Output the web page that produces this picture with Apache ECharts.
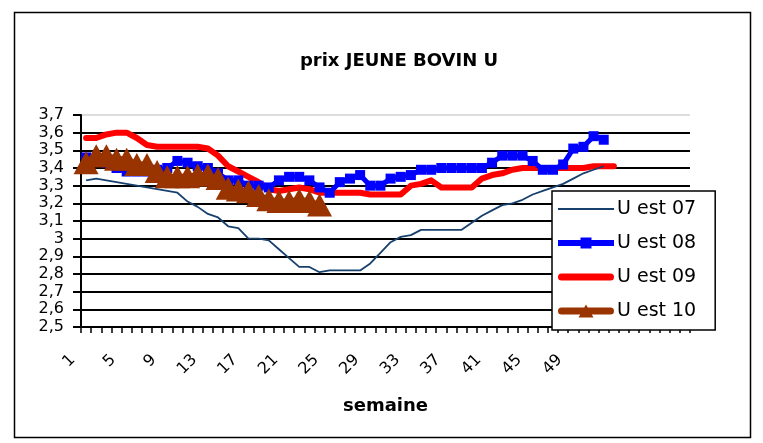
<!DOCTYPE html>
<html>
<head>
<meta charset="utf-8">
<script src="https://cdn.jsdelivr.net/npm/echarts@6/dist/echarts.min.js"></script>
<style>
html,body{margin:0;padding:0;background:#fff;}
#chart{width:763px;height:443px;}
</style>
</head>
<body>
<div id="chart"></div>
<script>
// semaine (week) labels; extra category slots after week 52 are unlabeled
const weeks = ['1','2','3','4','5','6','7','8','9','10','11','12','13','14','15','16','17','18','19','20',
  '21','22','23','24','25','26','27','28','29','30','31','32','33','34','35','36','37','38','39','40',
  '41','42','43','44','45','46','47','48','49','50','51','52'];
const blankSlots = 8;

const seriesNames = ['U est 07', 'U est 08', 'U est 09', 'U est 10'];

const u07 = [3.33,3.34,3.33,3.32,3.31,3.30,3.29,3.28,3.27,3.26,3.21,3.18,3.14,3.12,3.07,3.06,3.00,3.00,2.99,2.94,
  2.89,2.84,2.84,2.81,2.82,2.82,2.82,2.82,2.86,2.92,2.98,3.01,3.02,3.05,3.05,3.05,3.05,3.05,3.09,3.13,
  3.16,3.19,3.20,3.22,3.25,3.27,3.29,3.31,3.34,3.37,3.39,3.41];

const u08 = [3.46,3.45,3.43,3.40,3.38,3.38,3.38,3.39,3.40,3.44,3.43,3.41,3.40,3.37,3.33,3.33,3.30,3.30,3.29,3.33,
  3.35,3.35,3.33,3.29,3.26,3.32,3.34,3.36,3.30,3.30,3.34,3.35,3.36,3.39,3.39,3.40,3.40,3.40,3.40,3.40,
  3.43,3.47,3.47,3.47,3.44,3.39,3.39,3.42,3.51,3.52,3.58,3.56];

const u09 = [3.57,3.57,3.59,3.60,3.60,3.57,3.53,3.52,3.52,3.52,3.52,3.52,3.51,3.47,3.41,3.38,3.35,3.32,3.28,3.27,
  3.28,3.29,3.28,3.26,3.26,3.26,3.26,3.26,3.25,3.25,3.25,3.25,3.30,3.31,3.33,3.29,3.29,3.29,3.29,3.34,
  3.36,3.37,3.39,3.40,3.40,3.40,3.40,3.40,3.40,3.40,3.41,3.41,3.41];

const u10 = [3.43,3.47,3.47,3.45,3.45,3.42,3.42,3.38,3.35,3.35,3.35,3.36,3.36,3.34,3.285,3.275,3.265,3.245,3.22,3.21,
  3.21,3.22,3.21,3.19];

const categories = weeks.concat(new Array(blankSlots).fill(''));

const FONT = 'DejaVu Sans';
const chart = echarts.init(document.getElementById('chart'), null, {renderer: 'canvas'});

// legend glyphs: line with (optional) marker, like the spreadsheet legend
const legendIcons = {
  'U est 07': 'path://M0,0 L56,0 L56,2 L0,2 Z',
  'U est 08': 'path://M0,2.5 L56,2.5 L56,8.5 L0,8.5 Z M22.5,0 L33.5,0 L33.5,11 L22.5,11 Z',
  'U est 09': 'path://M3.5,0 L52.5,0 A3.5,3.5 0 0 1 52.5,7 L3.5,7 A3.5,3.5 0 0 1 3.5,0 Z',
  'U est 10': 'path://M3.5,3 L52.5,3 A3.5,3.5 0 0 1 52.5,10 L3.5,10 A3.5,3.5 0 0 1 3.5,3 Z M28,0 L35.5,13 L20.5,13 Z'
};

chart.setOption({
  animation: false,
  backgroundColor: '#ffffff',
  title: {
    text: 'prix JEUNE BOVIN U',
    left: 394, top: 47,
    textAlign: 'center',
    textStyle: {fontFamily: FONT, fontSize: 18, fontWeight: 'bold', color: '#000'}
  },
  graphic: [{
    type: 'rect', silent: true, z: 0,
    shape: {x: 14.5, y: 12.5, width: 736, height: 425},
    style: {fill: null, stroke: '#000', lineWidth: 1.5}
  }],
  grid: {left: 81, right: 73, top: 115, bottom: 116, containLabel: false},
  legend: {
    orient: 'vertical',
    left: 552, top: 191,
    padding: [8, 19, 9, 6],
    itemWidth: 56, itemHeight: 14, itemGap: 14,
    backgroundColor: '#ffffff',
    borderColor: '#000', borderWidth: 1.5, borderRadius: 0,
    data: seriesNames.map(function (n) { return {name: n, icon: legendIcons[n]}; }),
    textStyle: {fontFamily: FONT, fontSize: 19, color: '#000', lineHeight: 20, padding: [0,0,0,-2]},
    z: 20
  },
  xAxis: {
    type: 'category',
    data: categories,
    boundaryGap: true,
    name: 'semaine',
    nameLocation: 'middle',
    nameGap: 70,
    nameTextStyle: {fontFamily: FONT, fontSize: 18, fontWeight: 'bold', color: '#000'},
    axisLine: {lineStyle: {color: '#000', width: 2}},
    axisTick: {show: true, interval: 0, length: 6, lineStyle: {color: '#000', width: 1.5}},
    axisLabel: {
      interval: 3, rotate: 45, margin: 17,
      padding: [0, 19, 0, 0],
      fontFamily: FONT, fontSize: 16, color: '#000'
    },
    splitLine: {show: false}
  },
  yAxis: {
    type: 'value',
    min: 2.5, max: 3.7, interval: 0.1,
    axisLine: {show: true, lineStyle: {color: '#000', width: 2}},
    axisTick: {show: true, length: 8, lineStyle: {color: '#000', width: 2}},
    axisLabel: {
      margin: 17,
      fontFamily: FONT, fontSize: 16, color: '#000',
      formatter: function (v) { return String(+v.toFixed(1)).replace('.', ','); }
    },
    splitLine: {
      show: true,
      lineStyle: {
        width: 2,
        color: ['#000','#000','#000','#000','#000','#000','#000','#000','#000','#000','#000','#000','#dddddd']
      }
    }
  },
  series: [
    {
      name: 'U est 09', type: 'line', data: u09,
      symbol: 'none', smooth: false,
      lineStyle: {color: '#ff0000', width: 6, cap: 'round', join: 'round'},
      itemStyle: {color: '#ff0000'}
    },
    {
      name: 'U est 07', type: 'line', data: u07,
      symbol: 'none',
      lineStyle: {color: '#17406d', width: 1.8},
      itemStyle: {color: '#17406d'}
    },
    {
      name: 'U est 08', type: 'line', data: u08,
      symbol: 'rect', symbolSize: 10, showAllSymbol: true,
      lineStyle: {color: '#0000ff', width: 5, join: 'round'},
      itemStyle: {color: '#0000ff'}
    },
    {
      name: 'U est 10', type: 'line', data: u10,
      symbol: 'triangle', symbolSize: [25, 23], showAllSymbol: true,
      lineStyle: {color: '#993300', width: 6, join: 'round'},
      itemStyle: {color: '#993300'}
    }
  ]
});
</script>
</body>
</html>
